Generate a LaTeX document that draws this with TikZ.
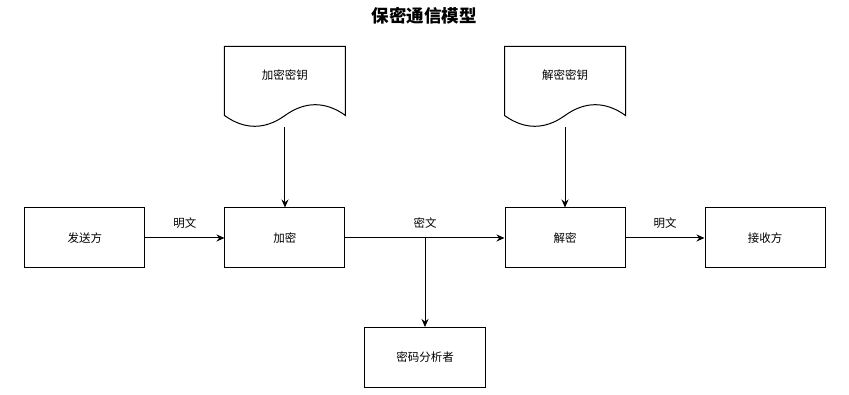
\documentclass[tikz,border=0pt]{standalone}
\usepackage{fontspec}
\newfontfamily\cjk{Noto Sans CJK SC}
\usetikzlibrary{arrows.meta, positioning, calc}

\begin{document}
\begin{tikzpicture}[x=1pt, y=1pt, >={Stealth[length=8pt, width=7pt]},
    font=\cjk\fontsize{11.5}{13}\selectfont, line width=1pt,
    box/.style={draw, rectangle, minimum width=120pt, minimum height=60pt, inner sep=2pt},
    keydoc/.style={rectangle, minimum width=120pt, minimum height=56pt, inner sep=2pt},
    tag/.style={inner sep=1pt}]
    \useasboundingbox (-285,238) rectangle (564,-157);
    \node[box] (enc) {加密};
    \node[box, left=79pt of enc] (snd) {发送方};
    \node[box, right=159pt of enc] (dec) {解密};
    \node[box, right=79pt of dec] (rcv) {接收方};
    \coordinate (split) at ($(enc.east)!0.5!(dec.west)$);
    \node[box, below=89pt of split] (spy) {密码分析者};
    \node[keydoc, above=104pt of enc] (ekey) {加密密钥};
    \node[keydoc, above=104pt of dec] (dkey) {解密密钥};
    \node[font=\cjk\bfseries\fontsize{17.5}{20}\selectfont] (title) at (139.5,222) {保密通信模型};
    % key documents with wavy bottom
    \foreach \k in {ekey, dkey}
        \draw (\k.north west) -- (\k.north east) -- ([yshift=-12pt]\k.south east)
            .. controls +(-20,14.4) and +(20,14.4) .. ([yshift=-12pt]\k.south)
            .. controls +(-20,-14.4) and +(20,-14.4) .. ([yshift=-12pt]\k.south west) -- cycle;
    \draw[->] ([yshift=-24pt]ekey.south) -- (enc);
    \draw[->] ([yshift=-24pt]dkey.south) -- (dec);
    \draw[->] (snd) -- node[tag, above=8pt]{明文} (enc);
    \draw[->] (enc) -- node[tag, above=8pt]{密文} (dec);
    \draw[->] (dec) -- node[tag, above=8pt]{明文} (rcv);
    \draw[->] (split) -- (spy);
\end{tikzpicture}
\end{document}
